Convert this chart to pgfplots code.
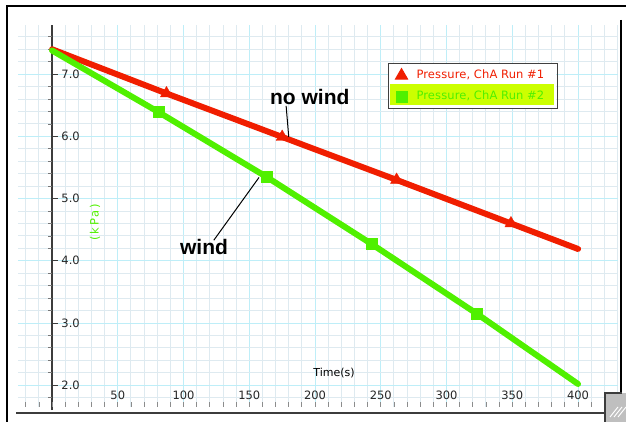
\documentclass[border=0pt]{standalone}
\usepackage{pgfplots}
\pgfplotsset{compat=1.18}
\usepackage{fontspec}
\setmainfont{DejaVu Sans}
\newfontfamily\annotfont{Liberation Sans}
\definecolor{pred}{RGB}{240,30,0}
\definecolor{pgreen}{RGB}{80,240,0}
\definecolor{hilite}{RGB}{204,255,0}
\definecolor{gridmaj}{RGB}{190,238,248}
\definecolor{gridmin}{RGB}{222,234,240}
\definecolor{axgray}{RGB}{60,60,60}
\begin{document}
\begin{tikzpicture}
\useasboundingbox (-18pt,-15pt) rectangle (608pt,407pt);
\begin{axis}[
  at={(0pt,0pt)}, anchor=south west,
  scale only axis, width=600pt, height=382pt,
  xmin=-25.9, xmax=430.4, ymin=1.65, ymax=7.79,
  axis line style={draw=none},
  xtick={0,50,...,400}, minor xtick={-20,-10,...,430},
  ytick={2,3,...,7}, minor ytick={1.8,2.0,...,7.8},
  xticklabels={}, yticklabels={},
  major tick length=0pt, minor tick length=0pt,
  grid=both,
  major grid style={draw=gridmaj, line width=1pt},
  minor grid style={draw=gridmin, line width=1pt},
  clip=false,
  legend cell align=left,
  legend image code/.code={\path[draw=none,fill=none] (-8pt,-6pt) rectangle (14pt,6pt); \draw[#1] plot coordinates {(0pt,0pt)};},
  legend style={at={(axis cs:255.5,7.177)}, anchor=north west, draw=black!75, line width=1pt, fill=none,
    font=\fontsize{11.5}{13}\selectfont\addfontfeature{LetterSpace=1}, inner sep=5pt, row sep=8pt,
    nodes={inner sep=1pt, text height=8.5pt, text depth=2.5pt}},
]
% axes decorations
\draw[axgray, line width=2pt] (axis cs:0,1.60) -- (axis cs:0,7.79);
\pgfplotsinvokeforeach{2,3,...,7}{\draw[axgray, line width=1pt] (axis cs:0,#1) -- ++(6pt,0pt);}
\pgfplotsinvokeforeach{1.8,2.2,2.4,2.6,2.8,3.2,3.4,3.6,3.8,4.2,4.4,4.6,4.8,5.2,5.4,5.6,5.8,6.2,6.4,6.6,6.8,7.2,7.4,7.6}{\draw[axgray!70, line width=0.8pt] (axis cs:0,#1) -- ++(-4pt,0pt);}
\pgfplotsinvokeforeach{-20,-10,...,420}{\draw[black!45, line width=0.8pt] (axis cs:#1,1.65) -- ++(0pt,5pt);}
\draw[axgray, line width=2pt] (axis cs:-27.4,1.553) -- (axis cs:420.5,1.553);
% tick labels
\pgfplotsinvokeforeach{50,100,...,400}{\node[font=\fontsize{11.5}{13}\selectfont, text=black!85] at (axis cs:#1,1.84) {#1};}
\pgfplotsinvokeforeach{2,3,...,7}{\node[font=\fontsize{11.5}{13}\selectfont, text=black!85, anchor=west, inner sep=0pt] at (axis cs:7,#1) {#1.0};}
\node[font=\fontsize{11}{13}\selectfont] at (axis cs:214.4,2.19) {Time(s)};
\node[font=\fontsize{11.5}{13}\selectfont\addfontfeature{LetterSpace=15}, text=pgreen, rotate=90] at (axis cs:32.7,4.62) {(kPa)};
% legend background
\fill[white] (axis cs:255.5,7.177) rectangle (axis cs:383.3,6.453);
\fill[hilite] (axis cs:257.0,6.839) rectangle (axis cs:381.7,6.502);
% data lines
\addplot[pred, line width=6pt, line join=round, line cap=round, forget plot] coordinates {
 (0,7.40) (87,6.69) (175,5.99) (262,5.30) (349,4.60) (400,4.19)};
\addplot[pgreen, line width=6pt, line join=round, line cap=round, forget plot] coordinates {
 (0,7.38) (81,6.39) (163,5.35) (243,4.27) (323,3.15) (400,2.02)};
\addplot[only marks, mark=triangle*, mark size=7pt, pred, mark options={fill=pred, draw=pred}] coordinates {
 (87,6.69) (175,5.99) (262,5.30) (349,4.60)};
\addlegendentry[text=pred]{\makebox[135pt][l]{Pressure, ChA Run \#1}}
\addplot[only marks, mark=square*, mark size=5.5pt, pgreen, mark options={fill=pgreen, draw=pgreen}] coordinates {
 (81,6.39) (163,5.35) (243,4.27) (323,3.15)};
\addlegendentry[text=pgreen]{\makebox[135pt][l]{Pressure, ChA Run \#2}}
% annotations
\node[font=\annotfont\bfseries\fontsize{21}{24}\selectfont] at (axis cs:196,6.63) {no wind};
\draw[black, line width=1pt] (axis cs:178,6.49) -- (axis cs:180,5.99);
\node[font=\annotfont\bfseries\fontsize{21}{24}\selectfont] at (axis cs:115.6,4.22) {wind};
\draw[black, line width=1pt] (axis cs:123,4.33) -- (axis cs:157.4,5.34);
\end{axis}
% window frame
\draw[black, line width=2pt] (-11pt,-15pt) -- (-11pt,401pt) -- (608pt,401pt);
\draw[black, line width=2pt] (603pt,387pt) -- (603pt,14pt);
\fill[black!25] (587pt,-15pt) rectangle (608pt,14pt);
\draw[axgray, line width=1.5pt] (587pt,-15pt) -- (587pt,14pt) -- (604pt,14pt);
\foreach \d in {0,4,8}{\draw[white, line width=1pt] (592pt+\d pt,-10pt) -- (600pt+\d pt,0pt);}
\end{tikzpicture}
\end{document}
